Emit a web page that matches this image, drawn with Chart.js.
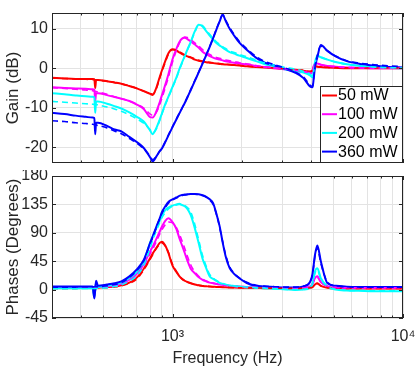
<!DOCTYPE html>
<html>
<head>
<meta charset="utf-8">
<script src="https://cdn.jsdelivr.net/npm/chart.js@4.4.1/dist/chart.umd.min.js"></script>
<style>
  html, body { margin: 0; padding: 0; background: #fff; }
  #wrap { position: relative; width: 415px; height: 374px; }
  #gainChart { position: absolute; left: 0; top: 0; }
  #phaseChart { position: absolute; left: 0; top: 170px; }
</style>
</head>
<body>
<div id="wrap">
  <canvas id="gainChart" width="415" height="170"></canvas>
  <canvas id="phaseChart" width="415" height="204"></canvas>
</div>
<script>
// frequency points (Hz), shared by all curves
const freq = [300, 340, 380, 420, 450, 458, 462, 466, 475, 520,
  560, 600, 650, 700, 750, 800, 820, 850, 880, 900,
  930, 960, 1000, 1040, 1070, 1100, 1130, 1160, 1200, 1250,
  1300, 1350, 1400, 1450, 1500, 1550, 1600, 1650, 1700, 1770,
  1850, 1950, 2100, 2300, 2500, 2800, 3100, 3400, 3700, 3950,
  4050, 4100, 4150, 4250, 4400, 4700, 5100, 5700, 6500, 7500, 8700, 10000];

const labels = ['50 mW', '100 mW', '200 mW', '360 mW'];
const colors = ['#ff0000', '#ff00ff', '#00ffff', '#0000ff'];

// tick values
const xTicks = [300, 400, 500, 600, 700, 800, 900, 1000, 2000, 3000, 4000, 5000, 6000, 7000, 8000, 9000, 10000];
const gainTicks = [-20, -10, 0, 10];
const phaseTicks = [-45, 0, 45, 90, 135, 180];

// Gain (dB) - measured (solid)
const gain50 = [-2.4, -2.6, -2.7, -2.7, -2.75, -2.8, -5.0, -3.0, -3.0, -3.3,
  -3.6, -3.9, -4.5, -5.1, -5.8, -6.5, -6.75, -5.0, -2.2, -0.5,
  1.8, 3.8, 4.8, 4.5, 4.0, 3.6, 3.3, 3.0, 2.7, 2.2,
  1.9, 1.7, 1.5, 1.4, 1.3, 1.2, 1.1, 1.0, 0.95, 0.9,
  0.8, 0.7, 0.5, 0.3, 0.2, 0.0, -0.2, -0.4, -0.6, -0.9,
  -0.5, 0.4, 0.5, 0.4, 0.3, 0.2, 0.1, 0.0, 0.0, 0.0, 0.0, 0.0];
const gain100 = [-4.8, -5.0, -5.1, -5.2, -5.3, -5.4, -8.4, -6.3, -6.3, -6.8,
  -7.3, -7.7, -8.3, -9.2, -10.3, -12.4, -12.5, -11.0, -8.6, -6.8,
  -4.2, -1.5, 2.3, 5.0, 6.6, 7.5, 7.7, 7.4, 6.8, 6.0,
  5.2, 4.2, 3.6, 3.1, 2.7, 2.4, 2.2, 2.0, 1.8, 1.6,
  1.4, 1.2, 1.0, 0.6, 0.3, 0.0, -0.3, -0.6, -0.9, -1.3,
  -1.0, 0.6, 1.1, 1.2, 0.9, 0.6, 0.4, 0.2, 0.1, 0.0, 0.0, 0.0];
const gain200 = [-6.3, -6.6, -6.9, -7.1, -7.2, -7.4, -11.3, -8.4, -8.4, -9.0,
  -9.6, -10.2, -11.2, -12.3, -13.5, -15.8, -16.7, -15.2, -13.0, -11.4,
  -9.1, -7.2, -4.7, -2.3, -0.3, 1.5, 3.1, 4.7, 6.7, 9.4,
  11.0, 10.6, 9.4, 8.3, 7.3, 6.4, 5.8, 5.2, 4.7, 4.1,
  3.7, 3.2, 2.6, 1.8, 1.1, 0.4, -0.3, -0.7, -1.1, -1.8,
  -2.3, -0.5, 1.5, 3.2, 2.8, 2.2, 1.6, 1.0, 0.6, 0.3, 0.1, 0.0];
const gain360 = [-11.3, -11.6, -12.0, -12.3, -12.5, -12.6, -16.7, -13.8, -13.8, -14.6,
  -15.5, -16.0, -17.4, -18.7, -20.2, -22.6, -23.6, -22.4, -21.0, -20.3,
  -18.7, -17.0, -14.9, -12.9, -11.5, -10.1, -8.8, -7.4, -5.5, -3.2,
  -1.0, 1.2, 3.3, 5.4, 7.6, 9.8, 11.8, 13.6, 12.0, 10.0,
  8.3, 6.5, 4.7, 2.7, 1.5, 0.6, -0.2, -1.1, -2.5, -4.6,
  -4.8, -2.5, 0.2, 2.8, 5.9, 4.4, 3.0, 1.8, 1.1, 0.7, 0.35, 0.2];

// Gain (dB) - model (dashed)
const gain50Model = [-2.5, -2.6, -2.7, -2.8, -2.85, -2.9, -2.9, -2.95, -3.0, -3.3,
  -3.6, -3.9, -4.5, -5.1, -5.8, -6.4, -6.6, -5.2, -2.5, -0.8,
  1.5, 3.6, 4.7, 4.6, 4.2, 3.8, 3.4, 3.1, 2.8, 2.4,
  2.0, 1.8, 1.6, 1.5, 1.4, 1.3, 1.2, 1.1, 1.0, 0.95,
  0.85, 0.75, 0.55, 0.35, 0.25, 0.05, -0.15, -0.35, -0.55, -0.8,
  -0.6, 0.3, 0.5, 0.45, 0.35, 0.25, 0.15, 0.1, 0.05, 0.05, 0.05, 0.05];
const gain100Model = [-4.9, -5.1, -5.3, -5.5, -5.7, -5.8, -5.85, -5.9, -6.0, -6.6,
  -7.2, -7.7, -8.3, -9.1, -10.1, -11.6, -11.9, -11.2, -9.2, -7.5,
  -4.9, -2.2, 1.6, 4.5, 6.3, 7.4, 7.9, 7.8, 7.2, 6.4,
  5.6, 4.7, 4.0, 3.5, 3.0, 2.7, 2.5, 2.3, 2.1, 1.9,
  1.7, 1.4, 1.1, 0.7, 0.4, 0.1, -0.2, -0.5, -0.8, -1.1,
  -0.9, 0.4, 0.9, 1.1, 0.9, 0.6, 0.4, 0.25, 0.15, 0.1, 0.05, 0.05];
const gain200Model = [-8.4, -8.6, -8.8, -9.0, -9.1, -9.15, -9.2, -9.2, -9.3, -9.8,
  -10.3, -10.9, -11.8, -12.8, -13.9, -15.6, -16.4, -15.4, -13.2, -11.6,
  -9.3, -7.4, -4.9, -2.5, -0.5, 1.3, 3.0, 4.6, 6.6, 9.2,
  11.0, 10.8, 9.7, 8.6, 7.6, 6.7, 6.1, 5.5, 5.0, 4.4,
  4.0, 3.5, 2.9, 2.1, 1.4, 0.7, 0.2, -0.2, -0.8, -1.5,
  -2.0, -0.6, 1.2, 2.9, 2.8, 2.2, 1.6, 1.0, 0.6, 0.3, 0.15, 0.1];
const gain360Model = [-13.3, -13.5, -13.8, -14.0, -14.2, -14.3, -14.35, -14.4, -14.5, -15.1,
  -15.9, -16.6, -17.8, -19.0, -20.4, -22.3, -23.2, -22.3, -21.0, -20.2,
  -18.6, -16.9, -14.8, -12.8, -11.4, -10.1, -8.7, -7.3, -5.4, -3.1,
  -0.9, 1.3, 3.4, 5.5, 7.7, 9.9, 11.9, 13.5, 12.2, 10.3,
  8.6, 6.8, 5.0, 3.0, 1.8, 0.8, 0.0, -0.9, -2.2, -4.2,
  -4.6, -2.4, 0.3, 3.3, 5.6, 4.4, 3.1, 1.9, 1.3, 0.9, 0.6, 0.4];

// Phase (degrees) - measured (solid)
const phase50 = [3, 3, 3, 3, 3, -8, 0, 8, 3, 4,
  5, 7, 11, 19, 33, 50, 57, 66, 74, 76,
  70, 58, 38, 28, 21.5, 17, 14, 12, 10, 8,
  6.8, 5.8, 5.3, 4.8, 4.5, 4.2, 4, 3.8, 3.6, 3.4,
  3.2, 3, 2.8, 2.5, 2.3, 2, 1.8, 1.7, 2, 2.8,
  4, 6, 8, 10, 6, 3, 2, 1.8, 1.8, 1.8, 1.8, 1.8];
const phase100 = [3, 3, 3.5, 3.5, 3.5, -10, 0, 10, 4, 5,
  6.5, 9, 15.8, 25, 40, 61, 68, 80, 92, 100,
  109, 113, 107, 96, 82, 70, 58, 46, 33, 26,
  19.5, 15.5, 13, 11, 10, 9, 8, 7.5, 7, 6.2,
  5.5, 4.8, 4.2, 3.6, 3.2, 2.6, 2.2, 2, 3, 5,
  9, 14, 18, 21, 12, 5, 3, 2.5, 2.5, 2.5, 2.5, 2.5];
const phase200 = [2, 2, 2, 2, 2, -12, 0, 11, 4, 6,
  8, 11, 18.4, 28, 45, 75, 84, 97, 109, 118,
  126, 130, 133, 135, 136, 134, 132, 128, 118, 97,
  73, 49, 34, 21, 17, 13.8, 10.6, 9, 7.8, 6.5,
  5.6, 4.8, 3.8, 3, 2.3, 1.3, 0.3, -0.5, 0, 3,
  10, 20, 29, 34, 18, 5, 0, -1.5, -2, -2.5, -2.5, -2.5];
const phase360 = [5, 5, 5, 5, 5, -14, 0, 14, 6, 8,
  10, 13, 21, 32, 47, 74, 84, 99, 113, 123,
  132, 139, 143, 146, 148.5, 150, 150.5, 151, 151.5, 151.6,
  151, 149.5, 147, 143, 137, 120, 101, 75, 53, 34,
  25, 18, 10.5, 6, 5, 4, 3.5, 3.5, 5, 12,
  25, 40, 55, 70, 45, 10, 6, 4.5, 4, 4, 4, 4];

// Phase (degrees) - model (dashed)
const phase50Model = [2, 2, 2, 2.2, 2.3, 2.4, 2.4, 2.5, 2.6, 3.2,
  4.3, 6, 10, 17, 31, 48, 55, 65, 72, 74,
  69, 59, 40, 29, 22, 17, 14, 12, 10, 8.3,
  7, 6, 5.4, 5, 4.6, 4.3, 4, 3.8, 3.6, 3.4,
  3.2, 3, 2.8, 2.6, 2.4, 2.2, 2, 1.9, 2.2, 3,
  4.5, 6.5, 8.5, 9.5, 6, 3.5, 2.5, 2, 2, 2, 2, 2];
const phase100Model = [2.5, 2.5, 2.7, 2.8, 2.9, 3, 3, 3, 3.1, 4,
  5.5, 8, 14, 23, 37, 57, 64, 76, 88, 95,
  103, 107, 106, 98, 88, 77, 65, 53, 39, 28,
  21, 16.5, 13.5, 11.5, 10.3, 9.3, 8.3, 7.7, 7.1, 6.4,
  5.7, 5, 4.3, 3.7, 3.3, 2.8, 2.4, 2.2, 3, 5,
  8.5, 13, 17, 19, 12, 5.5, 3.5, 3, 3, 3, 3, 3];
const phase200Model = [1.5, 1.5, 1.6, 1.7, 1.8, 1.9, 1.9, 2, 2.1, 3,
  4.8, 7.5, 13.5, 22, 38, 66, 78, 93, 106, 114,
  122, 128, 132, 134, 135, 135, 133, 130, 123, 103,
  78, 54, 37, 24, 18.5, 14.5, 11.5, 9.5, 8.2, 6.9,
  5.9, 5, 4, 3.1, 2.4, 1.5, 0.6, 0, 0.5, 3,
  9, 18, 26, 31, 17, 5, 0.5, -1, -1.5, -2, -2, -2];
const phase360Model = [4, 4, 4, 4.2, 4.3, 4.4, 4.4, 4.5, 4.6, 6,
  8, 11, 19, 30, 45, 73, 82, 98, 113, 121,
  130, 137, 142, 145, 147.5, 149, 150, 150.5, 151, 151,
  150.5, 149, 146.5, 142, 135, 120, 99, 76, 55, 36,
  26, 18.5, 11.5, 7, 5.5, 4.5, 4, 4, 5.5, 12,
  24, 38, 53, 66, 42, 12, 6, 4.5, 4, 4, 4, 4];

const FONT = '"Liberation Sans", Arial, Helvetica, sans-serif';
const AXIS_COLOR = '#262626';
const GRID_COLOR = '#e3e3e3';

function toPoints(values) {
  return freq.map((f, k) => ({ x: f, y: values[k] }));
}

// dashed model curves first so they sit on top of the measured ones
function buildDatasets(measured, model) {
  const sets = [];
  for (let i = 3; i >= 0; i--) {
    sets.push({
      data: toPoints(model[i]),
      borderColor: colors[i],
      borderWidth: 1.6,
      borderDash: [6, 4],
      pointRadius: 0,
      cubicInterpolationMode: 'monotone',
      fill: false
    });
  }
  for (let i = 3; i >= 0; i--) {
    sets.push({
      data: toPoints(measured[i]),
      borderColor: colors[i],
      borderWidth: 2,
      pointRadius: 0,
      cubicInterpolationMode: 'monotone',
      fill: false
    });
  }
  return sets;
}

// box round the plot area and MATLAB style inward tick marks
const frame = {
  id: 'frame',
  afterDraw(chart) {
    const { ctx, chartArea: a, scales } = chart;
    ctx.save();
    ctx.strokeStyle = AXIS_COLOR;
    ctx.lineWidth = 1;
    ctx.beginPath();
    xTicks.forEach(v => {
      const px = Math.round(scales.x.getPixelForValue(v)) + 0.5;
      const len = (v === 1000 || v === 10000) ? 4 : 2.5;
      ctx.moveTo(px, a.bottom);
      ctx.lineTo(px, a.bottom - len);
      ctx.moveTo(px, a.top);
      ctx.lineTo(px, a.top + len);
    });
    scales.y.ticks.forEach(t => {
      const py = Math.round(scales.y.getPixelForValue(t.value)) + 0.5;
      ctx.moveTo(a.left, py);
      ctx.lineTo(a.left + 4, py);
      ctx.moveTo(a.right, py);
      ctx.lineTo(a.right - 4, py);
    });
    ctx.stroke();
    ctx.strokeRect(Math.round(a.left) + 0.5, Math.round(a.top) + 0.5,
      Math.round(a.right - a.left) - 1, Math.round(a.bottom - a.top) - 1);
    ctx.restore();
  }
};

// legend box in the lower right corner of the gain plot
const legendBox = {
  id: 'legendBox',
  afterDraw(chart) {
    const { ctx, chartArea: a } = chart;
    const w = 83, h = 77, rowH = 18.7;
    const x0 = Math.round(a.right) - w, y0 = Math.round(a.bottom) - h;
    ctx.save();
    ctx.fillStyle = '#ffffff';
    ctx.fillRect(x0, y0, w, h);
    ctx.strokeStyle = AXIS_COLOR;
    ctx.lineWidth = 1;
    ctx.strokeRect(x0 + 0.5, y0 + 0.5, w - 1, h - 1);
    ctx.font = '16px ' + FONT;
    ctx.textBaseline = 'middle';
    labels.forEach((lab, i) => {
      const cy = y0 + 9.5 + i * rowH;
      ctx.strokeStyle = colors[i];
      ctx.lineWidth = 2;
      ctx.beginPath();
      ctx.moveTo(x0 + 2, cy);
      ctx.lineTo(x0 + 17, cy);
      ctx.stroke();
      ctx.fillStyle = '#000000';
      ctx.fillText(lab, x0 + 18, cy + 0.5);
    });
    ctx.restore();
  }
};

function xScale(showLabels, height) {
  return {
    type: 'logarithmic',
    min: 300,
    max: 10000,
    afterBuildTicks: s => { s.ticks = xTicks.map(v => ({ value: v })); },
    afterFit: s => { s.height = height; s.paddingLeft = 0; s.paddingRight = 0; },
    border: { display: false },
    grid: { color: GRID_COLOR, drawTicks: false, lineWidth: 1 },
    ticks: {
      display: showLabels,
      autoSkip: false,
      maxRotation: 0,
      padding: 9,
      color: AXIS_COLOR,
      font: { family: FONT, size: 16 },
      callback: v => (v === 1000 ? '10\u00B3' : v === 10000 ? '10\u2074' : '')
    },
    title: {
      display: showLabels,
      text: 'Frequency (Hz)',
      color: AXIS_COLOR,
      font: { family: FONT, size: 16 },
      padding: { top: 0, bottom: 6 }
    }
  };
}

function yScale(min, max, tickValues, titleText) {
  return {
    min: min,
    max: max,
    afterBuildTicks: s => { s.ticks = tickValues.map(v => ({ value: v })); },
    afterFit: s => { s.width = 52; s.paddingTop = 0; s.paddingBottom = 0; },
    border: { display: false },
    grid: { color: GRID_COLOR, drawTicks: false, lineWidth: 1 },
    ticks: {
      padding: 4,
      color: AXIS_COLOR,
      font: { family: FONT, size: 16 }
    },
    title: {
      display: true,
      text: titleText,
      color: AXIS_COLOR,
      font: { family: FONT, size: 17 },
      padding: { top: 3, bottom: 0 }
    }
  };
}

const commonOptions = {
  responsive: false,
  devicePixelRatio: 1,
  animation: false,
  events: [],
  plugins: { legend: { display: false }, tooltip: { enabled: false } }
};

new Chart(document.getElementById('gainChart').getContext('2d'), {
  type: 'line',
  data: {
    datasets: buildDatasets([gain50, gain100, gain200, gain360],
      [gain50Model, gain100Model, gain200Model, gain360Model])
  },
  options: Object.assign({}, commonOptions, {
    layout: { padding: { top: 13, right: 12, bottom: 0, left: 0 } },
    scales: {
      x: xScale(false, 7),
      y: yScale(-24, 14, gainTicks, 'Gain (dB)')
    }
  }),
  plugins: [frame, legendBox]
});

new Chart(document.getElementById('phaseChart').getContext('2d'), {
  type: 'line',
  data: {
    datasets: buildDatasets([phase50, phase100, phase200, phase360],
      [phase50Model, phase100Model, phase200Model, phase360Model])
  },
  options: Object.assign({}, commonOptions, {
    layout: { padding: { top: 6, right: 12, bottom: 0, left: 0 } },
    scales: {
      x: xScale(true, 56),
      y: yScale(-45, 180, phaseTicks, 'Phases (Degrees)')
    }
  }),
  plugins: [frame]
});
</script>
</body>
</html>
